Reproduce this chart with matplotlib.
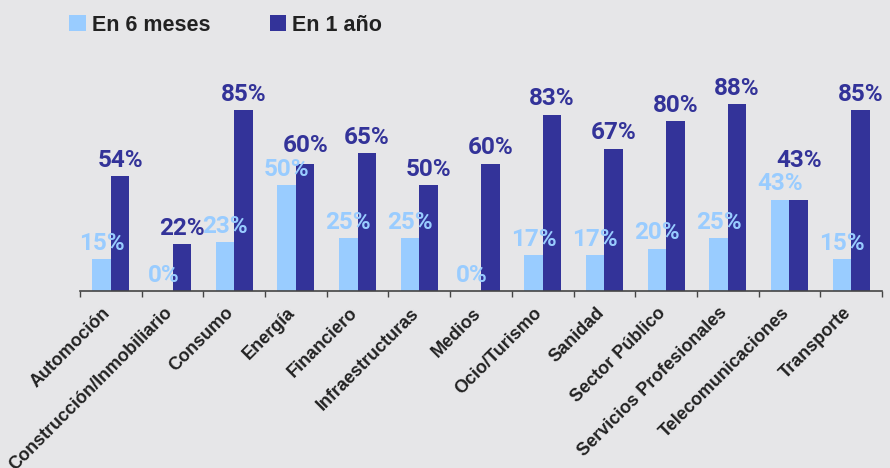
import numpy as np
import matplotlib.pyplot as plt
from matplotlib.transforms import ScaledTranslation

# data
categories = ['Automoción', 'Construcción/Inmobiliario', 'Consumo', 'Energía',
              'Financiero', 'Infraestructuras', 'Medios', 'Ocio/Turismo',
              'Sanidad', 'Sector Público', 'Servicios Profesionales',
              'Telecomunicaciones', 'Transporte']
seis_meses = [15, 0, 23, 50, 25, 25, 0, 17, 17, 20, 25, 43, 15]
un_ano = [54, 22, 85, 60, 65, 50, 60, 83, 67, 80, 88, 43, 85]
series_names = ['En 6 meses', 'En 1 año']

light = '#99ccff'
dark = '#333399'
bg = '#e6e6e8'

fig = plt.figure(figsize=(8.9, 4.68), dpi=100, facecolor=bg)
ax = fig.add_axes([80 / 890, 1 - 291 / 468, 802 / 890, 212.5 / 468])
ax.set_facecolor(bg)

x = np.arange(len(categories))
w = 0.30
b1 = ax.bar(x - w / 2, seis_meses, w, color=light, label=series_names[0])
b2 = ax.bar(x + w / 2, un_ano, w, color=dark, label=series_names[1])

vfont = dict(family='Roboto', fontweight='bold', fontsize=17.5)
for xi, l, d in zip(x, seis_meses, un_ano):
    ax.annotate(f'{l}%', (xi - w / 2, l), xytext=(0, 3), textcoords='offset points',
                ha='center', va='bottom', color=light, **vfont)
    # lift the dark label if it would sit on the light one
    yd = max(d, l + 11)
    ax.annotate(f'{d}%', (xi + w / 2, yd), xytext=(0, 3), textcoords='offset points',
                ha='center', va='bottom', color=dark, **vfont)

ax.set_xlim(-0.5, len(categories) - 0.5)
ax.set_ylim(0, 100)
for s in ['top', 'right', 'left']:
    ax.spines[s].set_visible(False)
ax.spines['bottom'].set_color('#444444')
ax.spines['bottom'].set_linewidth(1.2)
ax.set_yticks([])

ax.set_xticks(x)
ax.set_xticks(np.arange(len(categories) + 1) - 0.5, minor=True)
ax.tick_params(axis='x', which='major', length=0, pad=14)
ax.tick_params(axis='x', which='minor', length=4, width=1, color='#444444')
ax.set_xticklabels(categories, rotation=45, ha='right', va='center',
                   rotation_mode='anchor', family='Liberation Sans',
                   fontweight='bold', fontsize=13, color='#222222')
for lab in ax.get_xticklabels():
    lab.set_transform(lab.get_transform() + ScaledTranslation(-3 / 100, 0, fig.dpi_scale_trans))

leg = fig.legend(handles=[b1, b2], labels=series_names, loc='upper left',
                 bbox_to_anchor=(50 / 890, 1.01), ncol=2, frameon=False,
                 prop=dict(family='Liberation Sans', weight='bold', size=15.5),
                 handlelength=0.75, handleheight=0.75, handletextpad=0.3,
                 columnspacing=2.75)
for t in leg.get_texts():
    t.set_color('#222222')

fig.savefig('out.png', dpi=100, facecolor=bg)
